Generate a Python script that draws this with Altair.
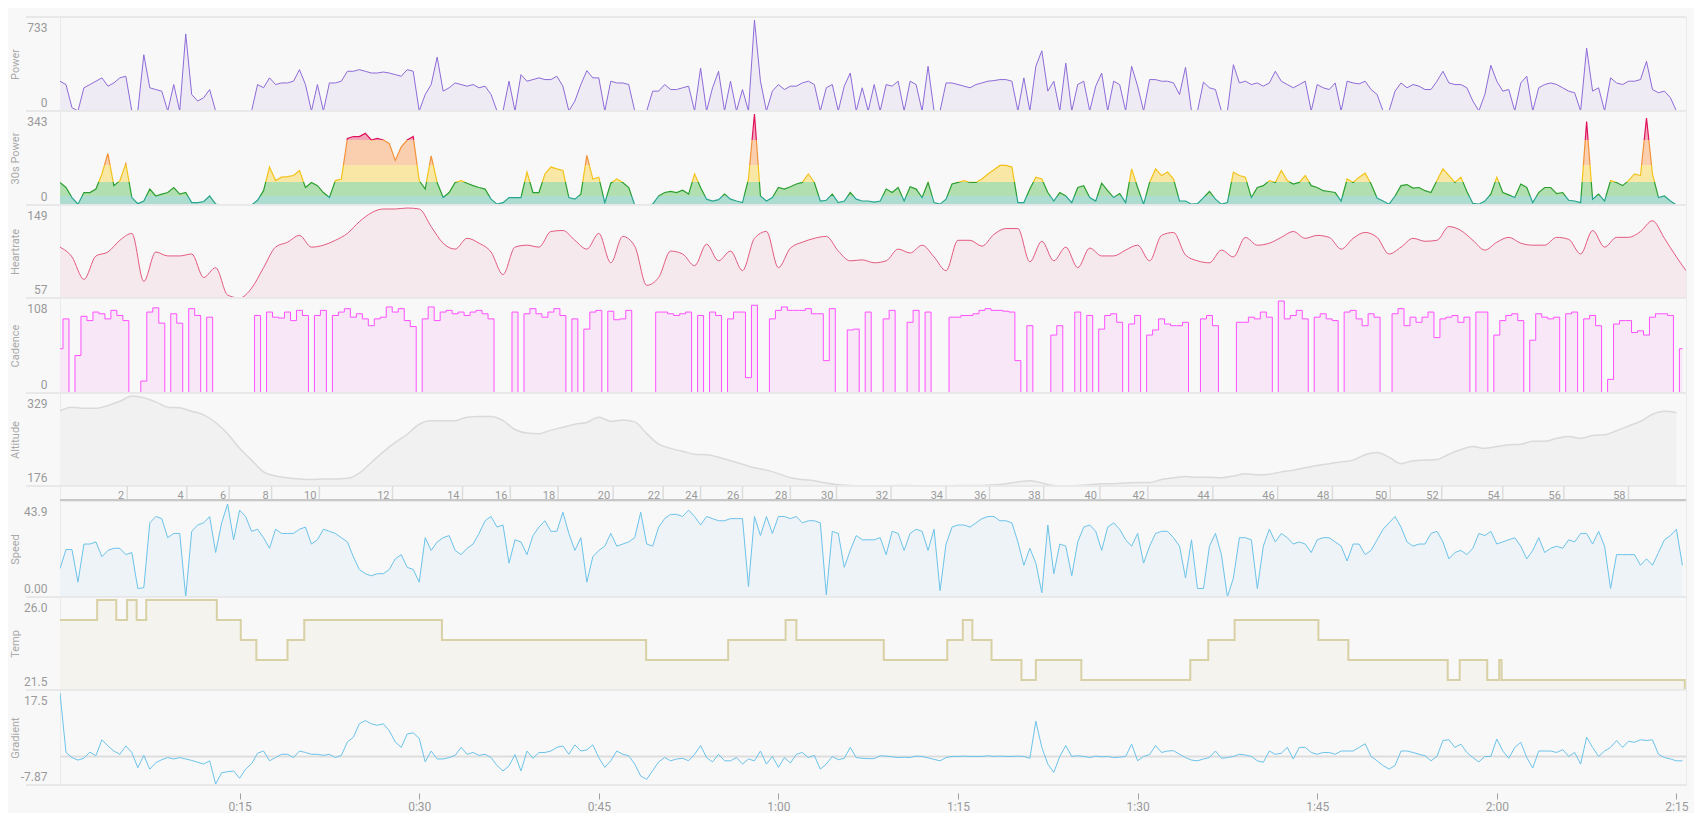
import altair as alt
import pandas as pd

# ---------------- data ----------------
X_MAX = 135.8  # minutes

power = [
    240, 213, 27, 0, 187, 213, 240, 267, 200, 226, 267, 280,
    0, 0, 453, 187, 173, 160, 0, 213, 0, 621, 133, 80,
    107, 173, 0, 0, 0, 0, 0, 0, 0, 213, 187, 267,
    213, 226, 226, 240, 333, 213, 0, 213, 0, 226, 226, 240,
    320, 320, 333, 320, 306, 306, 314, 306, 293, 280, 333, 320,
    0, 133, 213, 434, 160, 187, 226, 213, 200, 213, 187, 200,
    133, 0, 0, 240, 0, 293, 240, 253, 267, 253, 253, 280,
    200, 0, 80, 213, 325, 267, 267, 0, 240, 226, 226, 213,
    0, 0, 0, 160, 160, 213, 173, 173, 187, 200, 0, 346,
    0, 187, 320, 0, 240, 0, 173, 0, 733, 240, 0, 160,
    213, 173, 200, 200, 226, 240, 213, 0, 187, 213, 0, 200,
    306, 0, 187, 0, 213, 0, 213, 200, 240, 0, 240, 213,
    0, 360, 0, 0, 226, 226, 213, 200, 187, 213, 226, 240,
    245, 253, 253, 240, 0, 267, 0, 360, 485, 160, 240, 0,
    386, 0, 213, 240, 0, 200, 306, 0, 240, 213, 0, 360,
    200, 0, 253, 253, 240, 240, 226, 133, 352, 0, 0, 232,
    187, 173, 0, 0, 373, 226, 240, 213, 226, 200, 226, 320,
    240, 213, 187, 213, 240, 0, 213, 187, 173, 226, 0, 240,
    226, 218, 240, 173, 133, 0, 0, 160, 226, 187, 213, 200,
    173, 173, 240, 320, 226, 213, 213, 187, 80, 0, 133, 368,
    240, 160, 173, 0, 226, 280, 0, 187, 213, 226, 213, 187,
    160, 147, 0, 506, 160, 187, 0, 267, 226, 213, 240, 240,
    253, 400, 173, 147, 160, 107, 0, 0,
]

power30 = [
    85, 66, 28, 3, 47, 47, 60, 117, 194, 73, 92, 156,
    28, 5, 15, 60, 34, 41, 47, 66, 41, 47, 9, 9,
    13, 34, 3, 0, 0, 0, 0, 0, 0, 18, 54, 143,
    92, 105, 107, 111, 130, 66, 85, 73, 47, 28, 92, 98,
    251, 258, 258, 270, 245, 251, 245, 232, 168, 219, 245, 258,
    92, 60, 185, 85, 28, 47, 85, 92, 82, 73, 66, 60,
    22, 3, 9, 28, 28, 28, 124, 47, 47, 117, 143, 136,
    130, 28, 22, 41, 187, 98, 105, 9, 82, 98, 85, 66,
    0, 0, 0, 3, 34, 47, 51, 47, 56, 41, 117, 66,
    22, 15, 20, 41, 22, 15, 9, 98, 343, 34, 15, 28,
    66, 60, 69, 79, 85, 117, 85, 15, 18, 41, 9, 15,
    47, 22, 15, 15, 11, 15, 60, 47, 66, 15, 69, 60,
    28, 85, 9, 3, 22, 79, 85, 92, 85, 85, 98, 117,
    133, 149, 149, 143, 9, 9, 60, 105, 98, 47, 15, 47,
    34, 9, 66, 73, 28, 15, 82, 54, 28, 43, 9, 136,
    66, 3, 85, 136, 111, 124, 98, 15, 15, 3, 5, 28,
    51, 22, 3, 9, 124, 111, 105, 28, 66, 73, 92, 85,
    130, 92, 79, 85, 111, 73, 66, 54, 51, 47, 15, 98,
    85, 105, 120, 79, 26, 15, 3, 34, 73, 77, 64, 66,
    54, 47, 92, 136, 111, 85, 105, 51, 6, 3, 15, 41,
    105, 47, 38, 28, 79, 66, 9, 47, 66, 66, 43, 47,
    18, 15, 9, 315, 22, 41, 15, 92, 85, 73, 92, 117,
    111, 328, 117, 28, 34, 15, 0, 0,
]

heartrate = [
    109, 99, 76, 100, 104, 116, 123, 74, 104, 100, 100, 102,
    78, 88, 60, 57, 67, 88, 109, 114, 121, 109, 111, 116,
    123, 135, 144, 148, 148, 149, 148, 130, 113, 107, 118, 113,
    104, 81, 109, 111, 109, 125, 126, 116, 107, 123, 93, 120,
    110, 70, 78, 105, 102, 90, 112, 95, 105, 85, 118, 125,
    88, 108, 114, 118, 120, 105, 95, 96, 93, 95, 107, 103,
    111, 99, 85, 116, 116, 110, 122, 128, 128, 94, 115, 95,
    109, 88, 108, 100, 100, 106, 111, 95, 121, 124, 101, 95,
    93, 106, 99, 119, 111, 113, 119, 125, 118, 121, 119, 107,
    118, 124, 119, 102, 109, 118, 115, 116, 130, 126, 116, 106,
    114, 119, 113, 111, 111, 119, 117, 102, 126, 109, 119, 119,
    125, 136, 118, 99, 85,
]
hr_time = list(range(136)) + [135.8]

cadence = [
    52, 87, 0, 44, 90, 85, 95, 93, 87, 97, 91, 85,
    0, 0, 14, 95, 100, 82, 0, 93, 82, 0, 99, 91,
    0, 89, 0, 0, 0, 0, 0, 0, 0, 91, 0, 95,
    89, 88, 95, 85, 97, 91, 0, 91, 97, 0, 91, 95,
    99, 89, 93, 87, 79, 87, 89, 101, 95, 99, 85, 78,
    0, 87, 101, 85, 95, 97, 93, 95, 91, 95, 97, 93,
    87, 0, 0, 0, 95, 0, 93, 99, 93, 89, 95, 99,
    91, 0, 87, 0, 75, 95, 97, 0, 96, 86, 87, 97,
    0, 0, 0, 0, 95, 95, 93, 91, 93, 95, 0, 91,
    0, 95, 91, 0, 87, 95, 95, 18, 103, 0, 0, 87,
    97, 101, 97, 97, 97, 99, 93, 93, 38, 99, 0, 0,
    74, 75, 0, 95, 0, 0, 87, 97, 0, 0, 83, 97,
    0, 95, 0, 0, 0, 89, 89, 91, 91, 93, 97, 99,
    97, 97, 96, 95, 38, 0, 79, 0, 0, 0, 68, 79,
    0, 0, 95, 0, 91, 0, 75, 91, 93, 83, 0, 81,
    91, 0, 68, 74, 87, 81, 79, 79, 83, 0, 0, 87,
    91, 79, 0, 0, 0, 83, 83, 89, 87, 95, 89, 0,
    108, 87, 91, 97, 87, 0, 89, 93, 87, 85, 0, 95,
    97, 87, 79, 93, 89, 0, 0, 93, 99, 79, 89, 83,
    89, 95, 65, 87, 89, 91, 83, 89, 0, 95, 95, 0,
    68, 85, 91, 93, 85, 0, 62, 93, 89, 87, 89, 0,
    93, 95, 0, 87, 91, 79, 0, 16, 81, 85, 85, 71,
    73, 68, 89, 93, 93, 91, 0, 52,
]

altitude = [
    304, 310, 308, 308, 313, 320, 329, 326, 319, 310, 309, 303,
    297, 284, 265, 240, 220, 200, 193, 190, 188, 187, 188, 188,
    189, 198, 216, 234, 250, 264, 281, 287, 287, 287, 293, 294,
    294, 287, 272, 266, 265, 271, 276, 281, 284, 293, 286, 288,
    285, 265, 247, 240, 235, 230, 229, 225, 219, 213, 207, 203,
    197, 190, 187, 185, 181, 178, 177, 176, 176, 176, 177, 177,
    176, 176, 176, 177, 177, 177, 178, 180, 183, 185, 181, 177,
    176, 177, 178, 180, 180, 181, 182, 182, 187, 190, 192, 191,
    191, 190, 193, 197, 195, 196, 200, 203, 207, 211, 214, 217,
    220, 229, 233, 225, 214, 219, 220, 221, 230, 238, 243, 240,
    243, 246, 247, 252, 252, 257, 260, 257, 262, 263, 270, 278,
    286, 298, 303, 301,
]

speed = [
    13.4, 22.4, 22.4, 7, 25, 25, 26, 19, 22, 23, 23, 20,
    21, 4, 4.4, 35, 38, 37, 28, 30, 30, 0, 31, 34,
    35, 38, 21, 35, 43.9, 27, 41, 38, 31, 32, 28, 23,
    32, 30, 30, 30, 32, 33, 25, 27, 32, 31, 30, 28,
    26, 19, 13, 11, 10, 11, 11, 13, 18, 20, 14, 13,
    7, 28, 22, 26, 28, 29, 22, 20, 23, 25, 30, 36,
    38, 33, 34, 16, 27, 26, 20, 29, 33, 36, 31, 31,
    40, 30, 22, 28, 7, 19, 22, 24, 30, 24, 25, 26,
    28, 40, 25, 24, 33, 37, 39, 39, 38, 41, 38, 34,
    38, 37, 36, 36, 37, 37, 37, 5, 38, 29, 38, 30,
    38, 38, 37, 38, 35, 36, 36, 35, 1, 31, 30, 14,
    22, 29, 27, 27, 27, 28, 20, 31, 30, 22, 30, 32,
    31, 22, 32, 3, 25, 33, 34, 34, 33, 35, 37, 38,
    38, 36, 36, 35, 26, 15, 23, 16, 2, 34, 11, 25,
    24, 10, 26, 33, 34, 31, 22, 33, 35, 32, 27, 24,
    30, 16, 24, 30, 31, 31, 28, 24, 9, 27, 4, 4,
    24, 30, 20, 0, 9, 28, 28, 27, 4, 24, 32, 26,
    30, 28, 25, 26, 25, 21, 27, 28, 28, 26, 24, 17,
    25, 25, 20, 22, 27, 32, 35, 38, 33, 26, 24, 25,
    25, 30, 31, 26, 18, 21, 22, 20, 23, 30, 29, 31,
    25, 26, 27, 28, 24, 18, 22, 28, 21, 23, 24, 23,
    27, 26, 30, 30, 25, 31, 24, 4, 20, 20, 20, 20,
    15, 18, 15, 21, 27, 29, 32, 15,
]

temp_time = [0, 3.1, 4.7, 5.6, 6.4, 7.2, 13.1, 15.1, 16.4, 19.0, 20.4, 31.9,
             48.95, 55.8, 60.6, 61.5, 68.8, 74.1, 75.4, 76.2, 77.8, 80.3, 81.5,
             85.3, 94.4, 95.9, 98.1, 105.1, 107.6, 115.9, 116.9, 119.2, 120.2,
             120.4, 135.7, 135.8]
temp_vals = [25, 26, 25, 26, 25, 26, 25, 24, 23, 24, 25, 24,
             23, 24, 25, 24, 23, 24, 25, 24, 23, 22, 23,
             22, 23, 24, 25, 24, 23, 22, 23, 22, 23,
             22, 21.5, 21.5]

gradient = [
    17.5, 1.1, -0.3, -1.0, -0.5, 1.2, 0.2, 4.6, 2.9, 1.5, 0.6, 2.9,
    1.1, -3.1, 0.3, -3.5, -1.7, -0.9, -0.3, -0.7, -0.3, -0.7, -1.1, -1.6,
    -2.1, -1.2, -7.6, -4.5, -4.2, -4.0, -6.0, -3.5, -2.0, 0.9, 1.5, -1.2,
    -0.3, 0.6, 0.6, -0.3, 1.5, 1.1, 0.6, 0.6, 0.3, 0.6, -0.3, 0.3,
    4.0, 5.3, 9.0, 9.9, 9.0, 8.6, 9.0, 7.1, 4.0, 2.5, 6.2, 6.5,
    5.0, -1.5, 1.5, -0.7, -0.7, -0.3, 0.3, 2.5, 0.6, 1.1, 0.3, 0.6,
    -0.3, -2.5, -4.0, -2.6, 0.5, -4.0, 1.5, -0.5, 1.1, 1.1, 1.5, 2.5,
    2.9, 0.6, 3.2, 1.5, 1.8, 3.2, -0.3, -3.0, -1.2, 1.5, 0.6, 0.2,
    -2.1, -5.4, -6.3, -3.9, -1.5, -0.3, -1.2, -0.7, -0.5, -1.2, 0.6, 3.0,
    -0.3, -1.5, 0.6, -1.2, -1.2, -0.3, -2.1, -0.7, -1.2, 1.5, -2.1, 0,
    -3.0, -0.3, -1.8, 0.6, 1.1, -0.3, 0.3, -3.5, -2.1, 0, -0.9, -0.5,
    2.5, -0.3, -0.5, -0.6, -0.6, 0.2, 0.1, -0.1, -0.3, -0.2, -0.3, 0.1,
    0, -0.4, -0.8, -1.2, -0.3, 0, 0, 0.1, 0, 0, 0, 0.2,
    0, 0.1, 0, 0, 0.1, 0, -0.5, 9.7, 2.5, -2.1, -4.4, 0,
    3.0, 0, 0.2, 0, -0.3, 0.1, -0.1, 0, -0.3, -0.2, 0, 3.4,
    -1.2, 0, 0.5, 3.0, 1.1, 1.5, 1.6, 0.6, -0.3, -1.0, -1.2, -0.7,
    -0.3, 1.5, -0.5, -0.3, 0, 0.6, 0.4, 0, -1.2, -1.6, 1.5, 0.6,
    0.9, 2.5, -0.7, 2.5, 2.5, 1.1, 0.6, 1.1, 1.1, 0.6, 1.5, 1.5,
    1.5, 2.5, 3.5, 0, -1.2, -2.5, -3.5, -2.5, 1.5, 1.5, 1.1, 0.6,
    0.2, -1.2, 0, 4.4, 4.6, 2.5, 3.4, 1.1, -0.3, -1.5, 0, 0,
    4.8, 1.5, -0.5, 2.5, 3.9, -0.3, -3.2, 1.5, 1.5, 1.5, 1.1, 1.9,
    0, 1.1, -2.1, 5.3, 2.5, 0, 1.5, 2.5, 4.4, 2.5, 4.2, 3.9,
    4.6, 4.4, 4.6, 0.6, -0.3, -0.7, -1.2, -1.2,
]

km_labels = [2, 4, 6, 8, 10, 12, 14, 16, 18, 20, 22, 24, 26, 28, 30,
             32, 34, 36, 38, 40, 42, 44, 46, 48, 50, 52, 54, 56, 58]
km_time = [5.62, 10.59, 14.13, 17.67, 21.66, 27.77, 33.62, 37.61, 41.6, 46.2,
           50.37, 53.5, 57.0, 61.0, 64.85, 69.41, 74.0, 77.63, 82.15, 86.85,
           90.86, 96.28, 101.7, 106.27, 111.1, 115.4, 120.5, 125.6, 131.0]

time_ticks = [15, 30, 45, 60, 75, 90, 105, 120, 135]

# 30s power zones (upper bounds) and colours
zone_bounds = [34, 88, 152, 244]
zone_fill = ["#addcd1", "#b1dfb0", "#f9e7a6", "#f9cfaf", "#f2a7b9"]
zone_line = ["#27a68e", "#2a9f2e", "#f3c31b", "#f3923a", "#e0125c"]

# ---------------- layout / style ----------------
W = 1626
FONT = "Roboto"
LABEL_COLOR = "#9a9a9a"
TITLE_COLOR = "#a9a9a9"
SEP = "#e8e8e8"
BG = "#f8f8f8"

half_grid = [i * 0.5 for i in range(len(power))]

xs = alt.Scale(domain=[0, X_MAX], nice=False, zero=False)
X = alt.X("t:Q", scale=xs, axis=None)
deco = pd.DataFrame({"d": [0]})


def yaxis(title, h, lo, hi, label_expr=None, fmt=None):
    kw = dict(values=[lo, hi], title=title, ticks=False, tickSize=0, domain=False,
              grid=False, labelFlush=True, labelFlushOffset=-2, labelPadding=13,
              labelFont=FONT, labelFontSize=12, labelColor=LABEL_COLOR,
              titleFont=FONT, titleFontSize=11, titleColor=TITLE_COLOR,
              titleFontWeight="normal", titleAngle=270, titleX=-45, titleY=h / 2,
              titleAlign="center", titleBaseline="middle")
    if label_expr:
        kw["labelExpr"] = label_expr
    if fmt:
        kw["format"] = fmt
    return alt.Axis(**kw)


def yenc(title, h, lo, hi, **kw):
    return alt.Y("v:Q", scale=alt.Scale(domain=[lo, hi], range=[h, 3], nice=False, zero=False),
                 axis=yaxis(title, h, lo, hi, **kw))


def sep_rule(y):
    return alt.Chart(deco).mark_rule(color=SEP, strokeWidth=2).encode(
        x=alt.value(-34), x2=alt.value(W), y=alt.value(y))


def area_panel(times, vals, title, h, lo, hi, line_color, fill_color,
               interp="linear", sw=1.0, top_sep=False, **axkw):
    df = pd.DataFrame({"t": times, "v": vals})
    y = yenc(title, h, lo, hi, **axkw)
    area = alt.Chart(df).mark_area(color=fill_color, interpolate=interp, clip=True).encode(
        x=X, y=y, y2=alt.datum(lo))
    line = alt.Chart(df).mark_line(color=line_color, strokeWidth=sw, interpolate=interp,
                                   clip=True).encode(x=X, y=y)
    layers = [area, line, sep_rule(h)]
    if top_sep:
        layers.append(sep_rule(0))
    return alt.layer(*layers).properties(width=W, height=h)


def grad(colors, bounds, top):
    stops = []
    lo = 0.0
    for i, c in enumerate(colors):
        hi = bounds[i] / top if i < len(bounds) else 1.0
        stops.append(alt.GradientStop(color=c, offset=lo))
        stops.append(alt.GradientStop(color=c, offset=hi))
        lo = hi
    return alt.LinearGradient(gradient="linear", stops=stops, x1=0, x2=0, y1=1, y2=0)


# Power
p_power = area_panel(half_grid, power, "Power", 94, 0, 733, "#8e6bd8", "#eeebf5", top_sep=True)

# 30s Power with zone colouring
h30 = 94
df30 = pd.DataFrame({"t": half_grid, "v": power30})
y30 = yenc("30s Power", h30, 0, 343)
a30 = alt.Chart(df30).mark_area(color=grad(zone_fill, zone_bounds, 343), clip=True).encode(
    x=X, y=y30, y2=alt.datum(0))
l30 = alt.Chart(df30).mark_line(color=grad(zone_line, zone_bounds, 343), strokeWidth=1.2,
                                clip=True).encode(x=X, y=y30)
p_30 = alt.layer(a30, l30, sep_rule(h30)).properties(width=W, height=h30)

p_hr = area_panel(hr_time, heartrate, "Heartrate", 93, 57, 149, "#e35a80", "#f6e9ed",
                  interp="monotone")
p_cad = area_panel(half_grid, cadence, "Cadence", 95, 0, 108, "#ff50ff", "#f7e7f7",
                   interp="step")
p_alt = area_panel(list(range(len(altitude))), altitude, "Altitude", 93, 176, 329,
                   "#dadada", "#f1f1f1", sw=1.5, interp="monotone")

# distance band
band_h = 15
km_df = pd.DataFrame({"t": km_time, "label": [str(k) for k in km_labels]})
b_ticks = alt.Chart(km_df).mark_rule(color="#dcdcdc", strokeWidth=1.5).encode(
    x=X, y=alt.value(0), y2=alt.value(band_h))
b_text = alt.Chart(km_df).mark_text(align="right", baseline="alphabetic", dx=-3, font=FONT,
                                    fontSize=11, color=LABEL_COLOR).encode(
    x=X, y=alt.value(12.5), text="label:N")
b_bottom = alt.Chart(deco).mark_rule(color="#c8c8c8", strokeWidth=2).encode(
    x=alt.value(0), x2=alt.value(W), y=alt.value(band_h - 1))
band = alt.layer(b_ticks, b_text, b_bottom).properties(width=W, height=band_h)

p_speed = area_panel(half_grid, speed, "Speed", 96, 0, 43.9, "#6cc3ea", "#edf3f7",
                     label_expr="datum.value == 0 ? '0.00' : '' + datum.value")
p_temp = area_panel(temp_time, temp_vals, "Temp", 93, 21.5, 26.0, "#d9d1a6", "#f4f3ed",
                    interp="step-after", sw=2, fmt=".1f")

# Gradient
hg = 95
dfg = pd.DataFrame({"t": half_grid, "v": gradient})
xg = alt.X("t:Q", scale=xs, axis=alt.Axis(
    values=time_ticks, title=None, grid=False, domain=False, ticks=True, tickSize=6,
    tickColor="#a0a0a0", offset=8, labelPadding=2, labelFlush=False, labelFont=FONT,
    labelFontSize=12, labelColor=LABEL_COLOR,
    labelExpr="floor(datum.value / 60) + ':' + (datum.value % 60 < 10 ? '0' : '') + (datum.value % 60)"))
yg = yenc("Gradient", hg, -7.87, 17.5, label_expr="'' + datum.value")
g_zero = alt.Chart(deco).mark_rule(color="#dddddd", strokeWidth=2).encode(
    x=alt.value(0), x2=alt.value(W), y=alt.datum(0))
g_line = alt.Chart(dfg).mark_line(color="#6cc3ea", strokeWidth=1, clip=True).encode(x=xg, y=yg)
p_grad = alt.layer(g_zero, g_line, sep_rule(hg)).properties(width=W, height=hg)

chart = alt.vconcat(p_power, p_30, p_hr, p_cad, p_alt, band, p_speed, p_temp, p_grad,
                    spacing=0, bounds="flush").resolve_scale(x="shared", y="independent").properties(
    background=BG, padding={"left": 0, "top": 7, "right": 5, "bottom": 0}
).configure_view(stroke="#eaeaea", strokeWidth=1).configure_concat(spacing=0)

chart.save("out.html", embed_options={"renderer": "svg", "actions": False})
